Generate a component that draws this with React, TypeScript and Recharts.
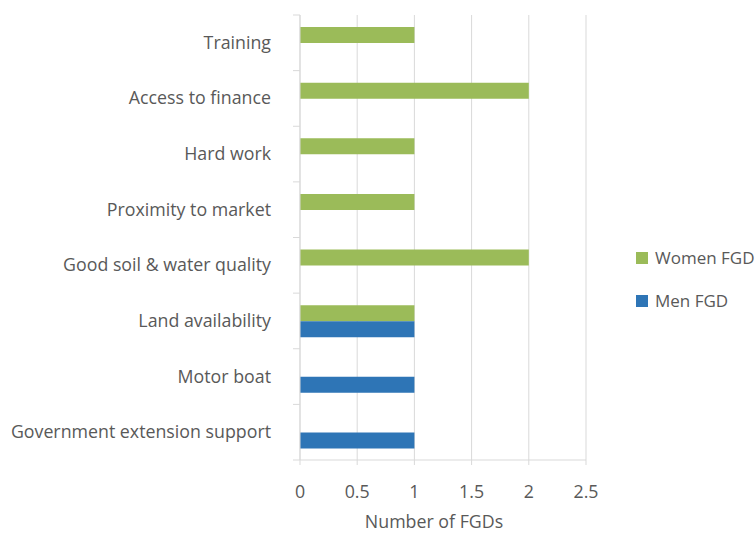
import { Bar, BarChart, CartesianGrid, XAxis, YAxis } from 'recharts'

const categories = [
  'Training',
  'Access to finance',
  'Hard work',
  'Proximity to market',
  'Good soil & water quality',
  'Land availability',
  'Motor boat',
  'Government extension support',
]
const womenFGD = [1, 2, 1, 1, 2, 1, 0, 0]
const menFGD = [0, 0, 0, 0, 0, 1, 1, 1]
const xTicks = [0, 0.5, 1, 1.5, 2, 2.5]

const WIDTH = 756
const HEIGHT = 534
const MARGIN = { top: 15, right: 170, bottom: 0, left: 0 }
const AXIS_W = 300
const AXIS_H = 74
const band = (HEIGHT - MARGIN.top - AXIS_H) / categories.length
const FONT = '"Open Sans", sans-serif'
const FS = 17.8
const TEXT = '#595959'
const GRID = '#d9d9d9'

const data = categories.map((name, i) => ({ name, women: womenFGD[i], men: menFGD[i] }))

function CategoryTick({ x, y, payload, index }: any) {
  const ax = x + 29
  return (
    <g>
      <text x={x} y={y} dy={6} textAnchor="end" fill={TEXT} fontSize={FS} fontFamily={FONT}>
        {payload.value}
      </text>
      <line x1={ax - 7} x2={ax} y1={y - band / 2} y2={y - band / 2} stroke={GRID} />
      {index === categories.length - 1 ? (
        <line x1={ax - 7} x2={ax} y1={y + band / 2} y2={y + band / 2} stroke={GRID} />
      ) : null}
    </g>
  )
}

function AxisTitle({ viewBox }: any) {
  const cx = viewBox.x + viewBox.width / 2 - 9
  return (
    <text x={cx} y={viewBox.y + viewBox.height - 6} textAnchor="middle" fill={TEXT} fontSize={FS} fontFamily={FONT}>
      Number of FGDs
    </text>
  )
}

const legendItems = [
  { label: 'Women FGD', color: '#9bbb59' },
  { label: 'Men FGD', color: '#2e75b6' },
]

export default function App() {
  return (
    <div style={{ position: 'absolute', left: 0, top: 0, width: WIDTH, height: HEIGHT, background: '#fff' }}>
      <BarChart
        width={WIDTH}
        height={HEIGHT}
        data={data}
        layout="vertical"
        margin={MARGIN}
        barSize={16}
        barGap={0}
      >
        <CartesianGrid horizontal={false} stroke={GRID} />
        <XAxis
          type="number"
          domain={[0, 2.5]}
          ticks={xTicks}
          height={AXIS_H}
          stroke={GRID}
          tickSize={5}
          tickMargin={20}
          tick={{ fill: TEXT, fontSize: FS, fontFamily: FONT }}
          label={<AxisTitle />}
        />
        <YAxis
          type="category"
          dataKey="name"
          width={AXIS_W}
          stroke={GRID}
          tickLine={false}
          tickSize={0}
          tickMargin={29}
          interval={0}
          tick={<CategoryTick />}
        />
        <Bar dataKey="women" name="Women FGD" fill="#9bbb59" isAnimationActive={false} />
        <Bar dataKey="men" name="Men FGD" fill="#2e75b6" isAnimationActive={false} />
      </BarChart>
      <div
        style={{
          position: 'absolute',
          left: 636,
          top: 236,
          fontFamily: FONT,
          fontSize: 17,
          color: TEXT,
          whiteSpace: 'nowrap',
        }}
      >
        {legendItems.map((it) => (
          <div key={it.label} style={{ display: 'flex', alignItems: 'center', height: 43 }}>
            <span style={{ width: 12, height: 12, background: it.color, marginRight: 7 }} />
            <span>{it.label}</span>
          </div>
        ))}
      </div>
    </div>
  )
}
